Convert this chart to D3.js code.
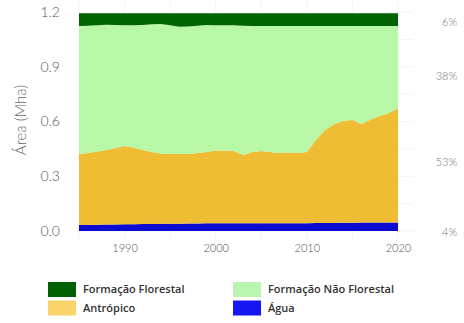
<!DOCTYPE html>
<html><head><meta charset="utf-8">
<script src="https://cdn.jsdelivr.net/npm/d3@7"></script>
<style>
html,body{margin:0;padding:0;background:#fff;}
svg{display:block;}
</style></head>
<body>
<svg id="chart" width="464" height="323"></svg>
<script>
const years = d3.range(1985, 2021);
const categories = ["Água", "Antrópico", "Formação Não Florestal", "Formação Florestal"];
const agua = [0.033,0.033,0.034,0.035,0.036,0.037,0.037,0.038,0.039,0.040,0.040,0.040,0.041,0.041,0.042,0.042,0.042,0.042,0.042,0.043,0.043,0.043,0.043,0.043,0.043,0.043,0.044,0.044,0.044,0.045,0.045,0.046,0.046,0.047,0.047,0.047];
const antropico = [0.389,0.394,0.401,0.409,0.419,0.429,0.421,0.406,0.394,0.385,0.382,0.382,0.381,0.386,0.391,0.399,0.399,0.396,0.374,0.390,0.395,0.390,0.384,0.387,0.384,0.390,0.455,0.509,0.542,0.559,0.563,0.540,0.565,0.583,0.600,0.625];
const naoFlorestal = [0.701,0.698,0.693,0.686,0.674,0.661,0.669,0.685,0.700,0.709,0.706,0.697,0.698,0.698,0.696,0.687,0.686,0.689,0.708,0.690,0.685,0.690,0.696,0.693,0.696,0.690,0.624,0.570,0.537,0.519,0.515,0.537,0.512,0.493,0.476,0.451];
const florestal = [0.070,0.068,0.065,0.063,0.064,0.066,0.066,0.064,0.060,0.059,0.065,0.074,0.073,0.068,0.064,0.065,0.066,0.066,0.069,0.070,0.070,0.070,0.070,0.070,0.070,0.070,0.070,0.070,0.070,0.070,0.070,0.070,0.070,0.070,0.070,0.070];
const yTicks = [0.0, 0.3, 0.6, 0.9, 1.2];
const xTicks = [1990, 2000, 2010, 2020];
const pctLabels = ["6%", "38%", "53%", "4%"];
const legendOrder = ["Formação Florestal", "Formação Não Florestal", "Antrópico", "Água"];

const colors = {
  "Formação Florestal": "#006400",
  "Formação Não Florestal": "#b8f7a6",
  "Antrópico": "#efbd33",
  "Água": "#0a0ad0"
};
const legendColors = {
  "Formação Florestal": "#005f00",
  "Formação Não Florestal": "#b9f5b0",
  "Antrópico": "#f9d46a",
  "Água": "#1616f2"
};

const seriesMap = {"Água": agua, "Antrópico": antropico, "Formação Não Florestal": naoFlorestal, "Formação Florestal": florestal};
const table = years.map((y, i) => {
  const row = {year: y};
  categories.forEach(c => row[c] = seriesMap[c][i]);
  return row;
});

const svg = d3.select("#chart");
const x = d3.scaleLinear().domain([1985, 2020]).range([79, 398]);
const y = d3.scaleLinear().domain([0, 1.2]).range([231, 12]);

// gridlines
const grid = svg.append("g");
d3.range(0, 1.21, 0.15).forEach(v => {
  grid.append("line").attr("x1", 79).attr("x2", 413).attr("y1", y(v)).attr("y2", y(v))
    .attr("stroke", "#f4f4f4").attr("stroke-width", 1);
});
d3.range(1985, 2021, 5).forEach(v => {
  grid.append("line").attr("x1", x(v)).attr("x2", x(v)).attr("y1", 0).attr("y2", 240)
    .attr("stroke", "#f5f5f5").attr("stroke-width", 1);
});

const stack = d3.stack().keys(categories);
const stacked = stack(table);
const area = d3.area().x(d => x(d.data.year)).y0(d => y(d[0])).y1(d => y(d[1])).curve(d3.curveLinear);
svg.append("g").selectAll("path").data(stacked).join("path")
  .attr("d", area).attr("fill", d => colors[d.key]);

// y axis
const yAxis = d3.axisLeft(y).tickValues(yTicks).tickFormat(d3.format(".1f")).tickSize(0).tickPadding(0);
const gy = svg.append("g").attr("transform", "translate(60,0)").call(yAxis);
gy.select(".domain").remove();
gy.selectAll("text").attr("fill", "#555").style("font-family", "Lato, sans-serif").style("font-weight", "300").style("font-size", "14px");

// x axis
const xAxis = d3.axisBottom(x).tickValues(xTicks).tickFormat(d3.format("d")).tickSize(0).tickPadding(0);
const gx = svg.append("g").attr("transform", "translate(0,244)").call(xAxis);
gx.select(".domain").remove();
gx.selectAll("text").attr("fill", "#555").style("font-family", "Lato, sans-serif").style("font-weight", "300").style("font-size", "11px");

// y title
svg.append("text").attr("transform", "translate(26,120) rotate(-90)")
  .attr("text-anchor", "middle").attr("fill", "#666")
  .style("font-family", "Lato, sans-serif").style("font-weight", "300").style("font-size", "15px")
  .text("Área (Mha)");

// right percentage labels (2020 shares)
const pctY = [22, 76, 162, 232];
const pctG = svg.append("g");
pctLabels.forEach((t, i) => {
  pctG.append("text").attr("x", 457).attr("y", pctY[i]).attr("dy", "0.35em")
    .attr("text-anchor", "end").attr("fill", "#777")
    .style("font-family", "Lato, sans-serif").style("font-weight", "300").style("font-size", "11px")
    .text(t);
});

// legend
const lg = svg.append("g");
legendOrder.forEach((k, i) => {
  const col = i % 2, row = Math.floor(i / 2);
  const lx = col === 0 ? 48 : 233;
  const ly = 282 + row * 18.5;
  lg.append("rect").attr("x", lx).attr("y", ly).attr("width", 28).attr("height", 15).attr("fill", legendColors[k]);
  lg.append("text").attr("x", lx + 35).attr("y", ly + 7.5).attr("dy", "0.35em")
    .attr("fill", "#333").style("font-family", "'Open Sans', sans-serif").style("font-weight", "600").style("font-size", "11px")
    .text(k);
});
</script>
</body></html>
